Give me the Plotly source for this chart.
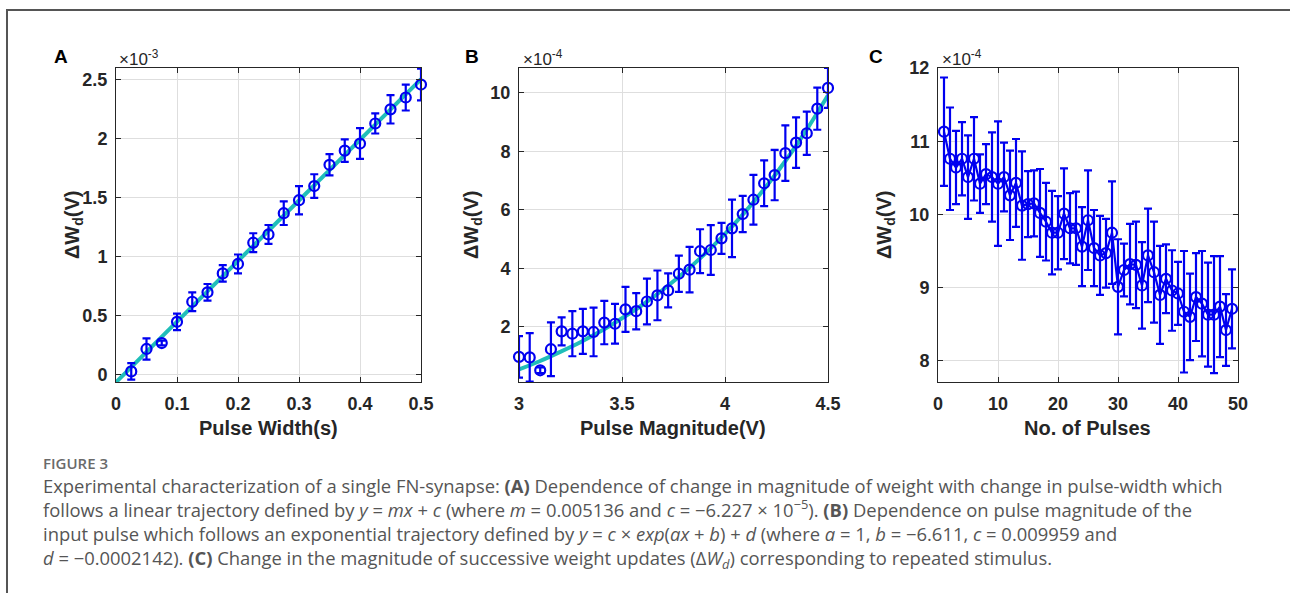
import plotly.graph_objects as go

# ---- data (panel A) : pulse width vs delta W (x1e-3)
width_s = [0.025, 0.05, 0.075, 0.1, 0.125, 0.15, 0.175, 0.2, 0.225, 0.25,
           0.275, 0.3, 0.325, 0.35, 0.375, 0.4, 0.425, 0.45, 0.475, 0.5]
dw_a = [0.03, 0.22, 0.27, 0.45, 0.62, 0.70, 0.86, 0.94, 1.12, 1.19,
        1.37, 1.48, 1.60, 1.78, 1.90, 1.96, 2.13, 2.25, 2.35, 2.46]
err_a = [0.07, 0.09, 0.02, 0.07, 0.08, 0.07, 0.07, 0.08, 0.08, 0.08,
         0.10, 0.12, 0.10, 0.09, 0.095, 0.13, 0.085, 0.12, 0.11, 0.135]
fit_a_x = [0.0, 0.5]
fit_a_y = [-0.062, 2.506]

# ---- data (panel B) : pulse magnitude vs delta W (x1e-4)
mag_v = [3.0, 3.052, 3.103, 3.155, 3.207, 3.259, 3.310, 3.362, 3.414, 3.466,
         3.517, 3.569, 3.621, 3.672, 3.724, 3.776, 3.828, 3.879, 3.931, 3.983,
         4.034, 4.086, 4.138, 4.190, 4.241, 4.293, 4.345, 4.397, 4.448, 4.5]
dw_b = [0.98, 0.96, 0.52, 1.24, 1.85, 1.77, 1.85, 1.83, 2.15, 2.11,
        2.60, 2.54, 2.87, 3.08, 3.25, 3.82, 3.96, 4.59, 4.63, 5.03,
        5.37, 5.86, 6.35, 6.91, 7.19, 7.94, 8.30, 8.62, 9.46, 10.17]
err_b = [0.71, 0.83, 0.10, 0.92, 0.48, 0.77, 0.77, 0.83, 0.74, 0.68,
         0.77, 0.62, 0.78, 0.85, 0.58, 0.62, 0.78, 0.75, 0.85, 0.53,
         0.98, 0.62, 0.85, 0.78, 0.86, 0.95, 0.86, 0.74, 0.72, 0.68]
fit_b_x = [3.0, 3.1, 3.2, 3.3, 3.4, 3.5, 3.6, 3.7, 3.8, 3.9,
           4.0, 4.1, 4.2, 4.3, 4.4, 4.5]
fit_b_y = [0.55, 0.83, 1.15, 1.49, 1.87, 2.30, 2.76, 3.28, 3.85, 4.48,
           5.18, 5.95, 6.80, 7.74, 8.78, 9.92]

# ---- data (panel C) : pulse number vs delta W (x1e-4)
pulses = list(range(1, 50))
dw_c = [11.13, 10.76, 10.64, 10.76, 10.51, 10.76, 10.42, 10.55, 10.51, 10.42,
        10.51, 10.26, 10.43, 10.12, 10.14, 10.15, 10.02, 9.90, 9.75, 9.75,
        10.01, 9.81, 9.81, 9.56, 9.92, 9.54, 9.44, 9.47, 9.75, 9.01,
        9.24, 9.32, 9.31, 9.03, 9.44, 9.21, 8.90, 9.12, 8.96, 8.92,
        8.67, 8.60, 8.87, 8.78, 8.63, 8.63, 8.74, 8.42, 8.71]
err_c = [0.74, 0.70, 0.50, 0.50, 0.57, 0.57, 0.40, 0.41, 0.61, 0.85,
         0.47, 0.61, 0.60, 0.74, 0.45, 0.45, 0.60, 0.53, 0.57, 0.50,
         0.62, 0.48, 0.50, 0.54, 0.68, 0.52, 0.54, 0.47, 0.70, 0.65,
         0.36, 0.55, 0.59, 0.59, 0.64, 0.69, 0.67, 0.47, 0.55, 0.43,
         0.83, 0.59, 0.60, 0.72, 0.71, 0.80, 0.69, 0.49, 0.54]

W, H = 1290, 593
BLUE = "rgb(0,0,240)"
TEAL = "rgb(32,190,185)"
AXC = "#262626"
FONT = "Liberation Sans"

def px(x):
    return x / W

def py(y):
    return 1 - y / H

fig = go.Figure()

err_style = dict(type="data", color=BLUE, thickness=2.2, width=4)
mk = dict(symbol="circle-open", size=10, color=BLUE, line=dict(width=2.2, color=BLUE))

# A
fig.add_trace(go.Scatter(x=fit_a_x, y=fit_a_y, mode="lines",
                         line=dict(color=TEAL, width=4), xaxis="x", yaxis="y"))
fig.add_trace(go.Scatter(x=width_s, y=dw_a, mode="markers", marker=mk, cliponaxis=False,
                         error_y=dict(array=err_a, **err_style), xaxis="x", yaxis="y"))
# B
fig.add_trace(go.Scatter(x=fit_b_x, y=fit_b_y, mode="lines", line_shape="spline",
                         line=dict(color=TEAL, width=4), xaxis="x2", yaxis="y2"))
fig.add_trace(go.Scatter(x=mag_v, y=dw_b, mode="markers", marker=mk, cliponaxis=False,
                         error_y=dict(array=err_b, **err_style), xaxis="x2", yaxis="y2"))
# C
fig.add_trace(go.Scatter(x=pulses, y=dw_c, mode="lines+markers", marker=mk,
                         line=dict(color=BLUE, width=2.2),
                         error_y=dict(array=err_c, **err_style), xaxis="x3", yaxis="y3"))

ax_common = dict(showline=True, linecolor=AXC, linewidth=1, mirror="ticks",
                 ticks="inside", ticklen=5, tickcolor=AXC, automargin=False,
                 showgrid=True, gridcolor="#dedede", gridwidth=1, zeroline=False,
                 tickfont=dict(family=FONT, size=18, color=AXC, weight="bold"))
xax = dict(ticklabelstandoff=5, **ax_common)
yax = dict(ticklabelstandoff=4, **ax_common)

yd = [py(382), py(68)]

fig.update_layout(
    width=W, height=H, autosize=False,
    margin=dict(l=0, r=0, t=0, b=0, pad=0),
    paper_bgcolor="white", plot_bgcolor="white",
    showlegend=False,
    xaxis=dict(domain=[px(116), px(421)], range=[0, 0.5], dtick=0.1, anchor="y", **xax),
    yaxis=dict(domain=yd, range=[-0.06, 2.6], dtick=0.5, anchor="x", **yax),
    xaxis2=dict(domain=[px(519), px(828)], range=[3, 4.5], dtick=0.5, anchor="y2", **xax),
    yaxis2=dict(domain=yd, range=[0.12, 10.85], dtick=2, anchor="x2", **yax),
    xaxis3=dict(domain=[px(938), px(1238)], range=[0, 50], dtick=10, anchor="y3", **xax),
    yaxis3=dict(domain=yd, range=[7.71, 12], dtick=1, anchor="x3", **yax),
)

def note(text, x, y, size, xanchor="center", color=AXC, weight="bold", angle=0, family=FONT):
    return dict(text=text, x=px(x), y=py(y), xref="paper", yref="paper",
                xanchor=xanchor, yanchor="middle", showarrow=False, textangle=angle,
                font=dict(family=family, size=size, color=color, weight=weight))

anns = []
for lab, x in [("A", 61), ("B", 472), ("C", 876)]:
    anns.append(note(lab, x, 57, 19, color="black"))
for ex, x in [("-3", 117), ("-4", 521), ("-4", 940)]:
    anns.append(note("×10<sup>" + ex + "</sup>", x, 58, 17, xanchor="left", weight="normal"))

# axis titles
for t, x in [("Pulse Width(s)", 268), ("Pulse Magnitude(V)", 673), ("No. of Pulses", 1087)]:
    anns.append(note(t, x, 428, 20))
for x in [73, 472, 885]:
    anns.append(note("ΔW<sub>d</sub>(V)", x, 225, 20, angle=-90))

anns.append(note("FIGURE 3", 41, 463, 15, xanchor="left", color="#6a6a6a",
                 weight=600, family="Open Sans"))

caption_lines = [
    "Experimental characterization of a single FN-synapse: <b>(A)</b> Dependence of change in magnitude of weight with change in pulse-width which",
    "follows a linear trajectory defined by <i>y</i> = <i>mx</i> + <i>c</i> (where <i>m</i> = 0.005136 and <i>c</i> = −6.227 × 10<sup>−5</sup>). <b>(B)</b> Dependence on pulse magnitude of the",
    "input pulse which follows an exponential trajectory defined by <i>y</i> = <i>c</i> × <i>exp</i>(<i>ax</i> + <i>b</i>) + <i>d</i> (where <i>a</i> = 1, <i>b</i> = −6.611, <i>c</i> = 0.009959 and",
    "<i>d</i> = −0.0002142). <b>(C)</b> Change in the magnitude of successive weight updates (Δ<i>W<sub>d</sub></i>) corresponding to repeated stimulus.",
]
cap = note("<br>".join(caption_lines), 41, 522.5, 18.4, xanchor="left", color="#555555",
           weight="normal", family="Open Sans")
cap["align"] = "left"
anns.append(cap)

fig.update_layout(annotations=anns)

# outer frame
fig.add_shape(type="path", xref="paper", yref="paper",
              path="M %f,0 L %f,%f L 1,%f" % (px(7), px(7), py(10), py(10)),
              line=dict(color="#555555", width=2))

fig.write_html("out.html", config={"displayModeBar": False},
               post_script="document.body.style.margin='0';document.body.style.overflow='hidden';")
